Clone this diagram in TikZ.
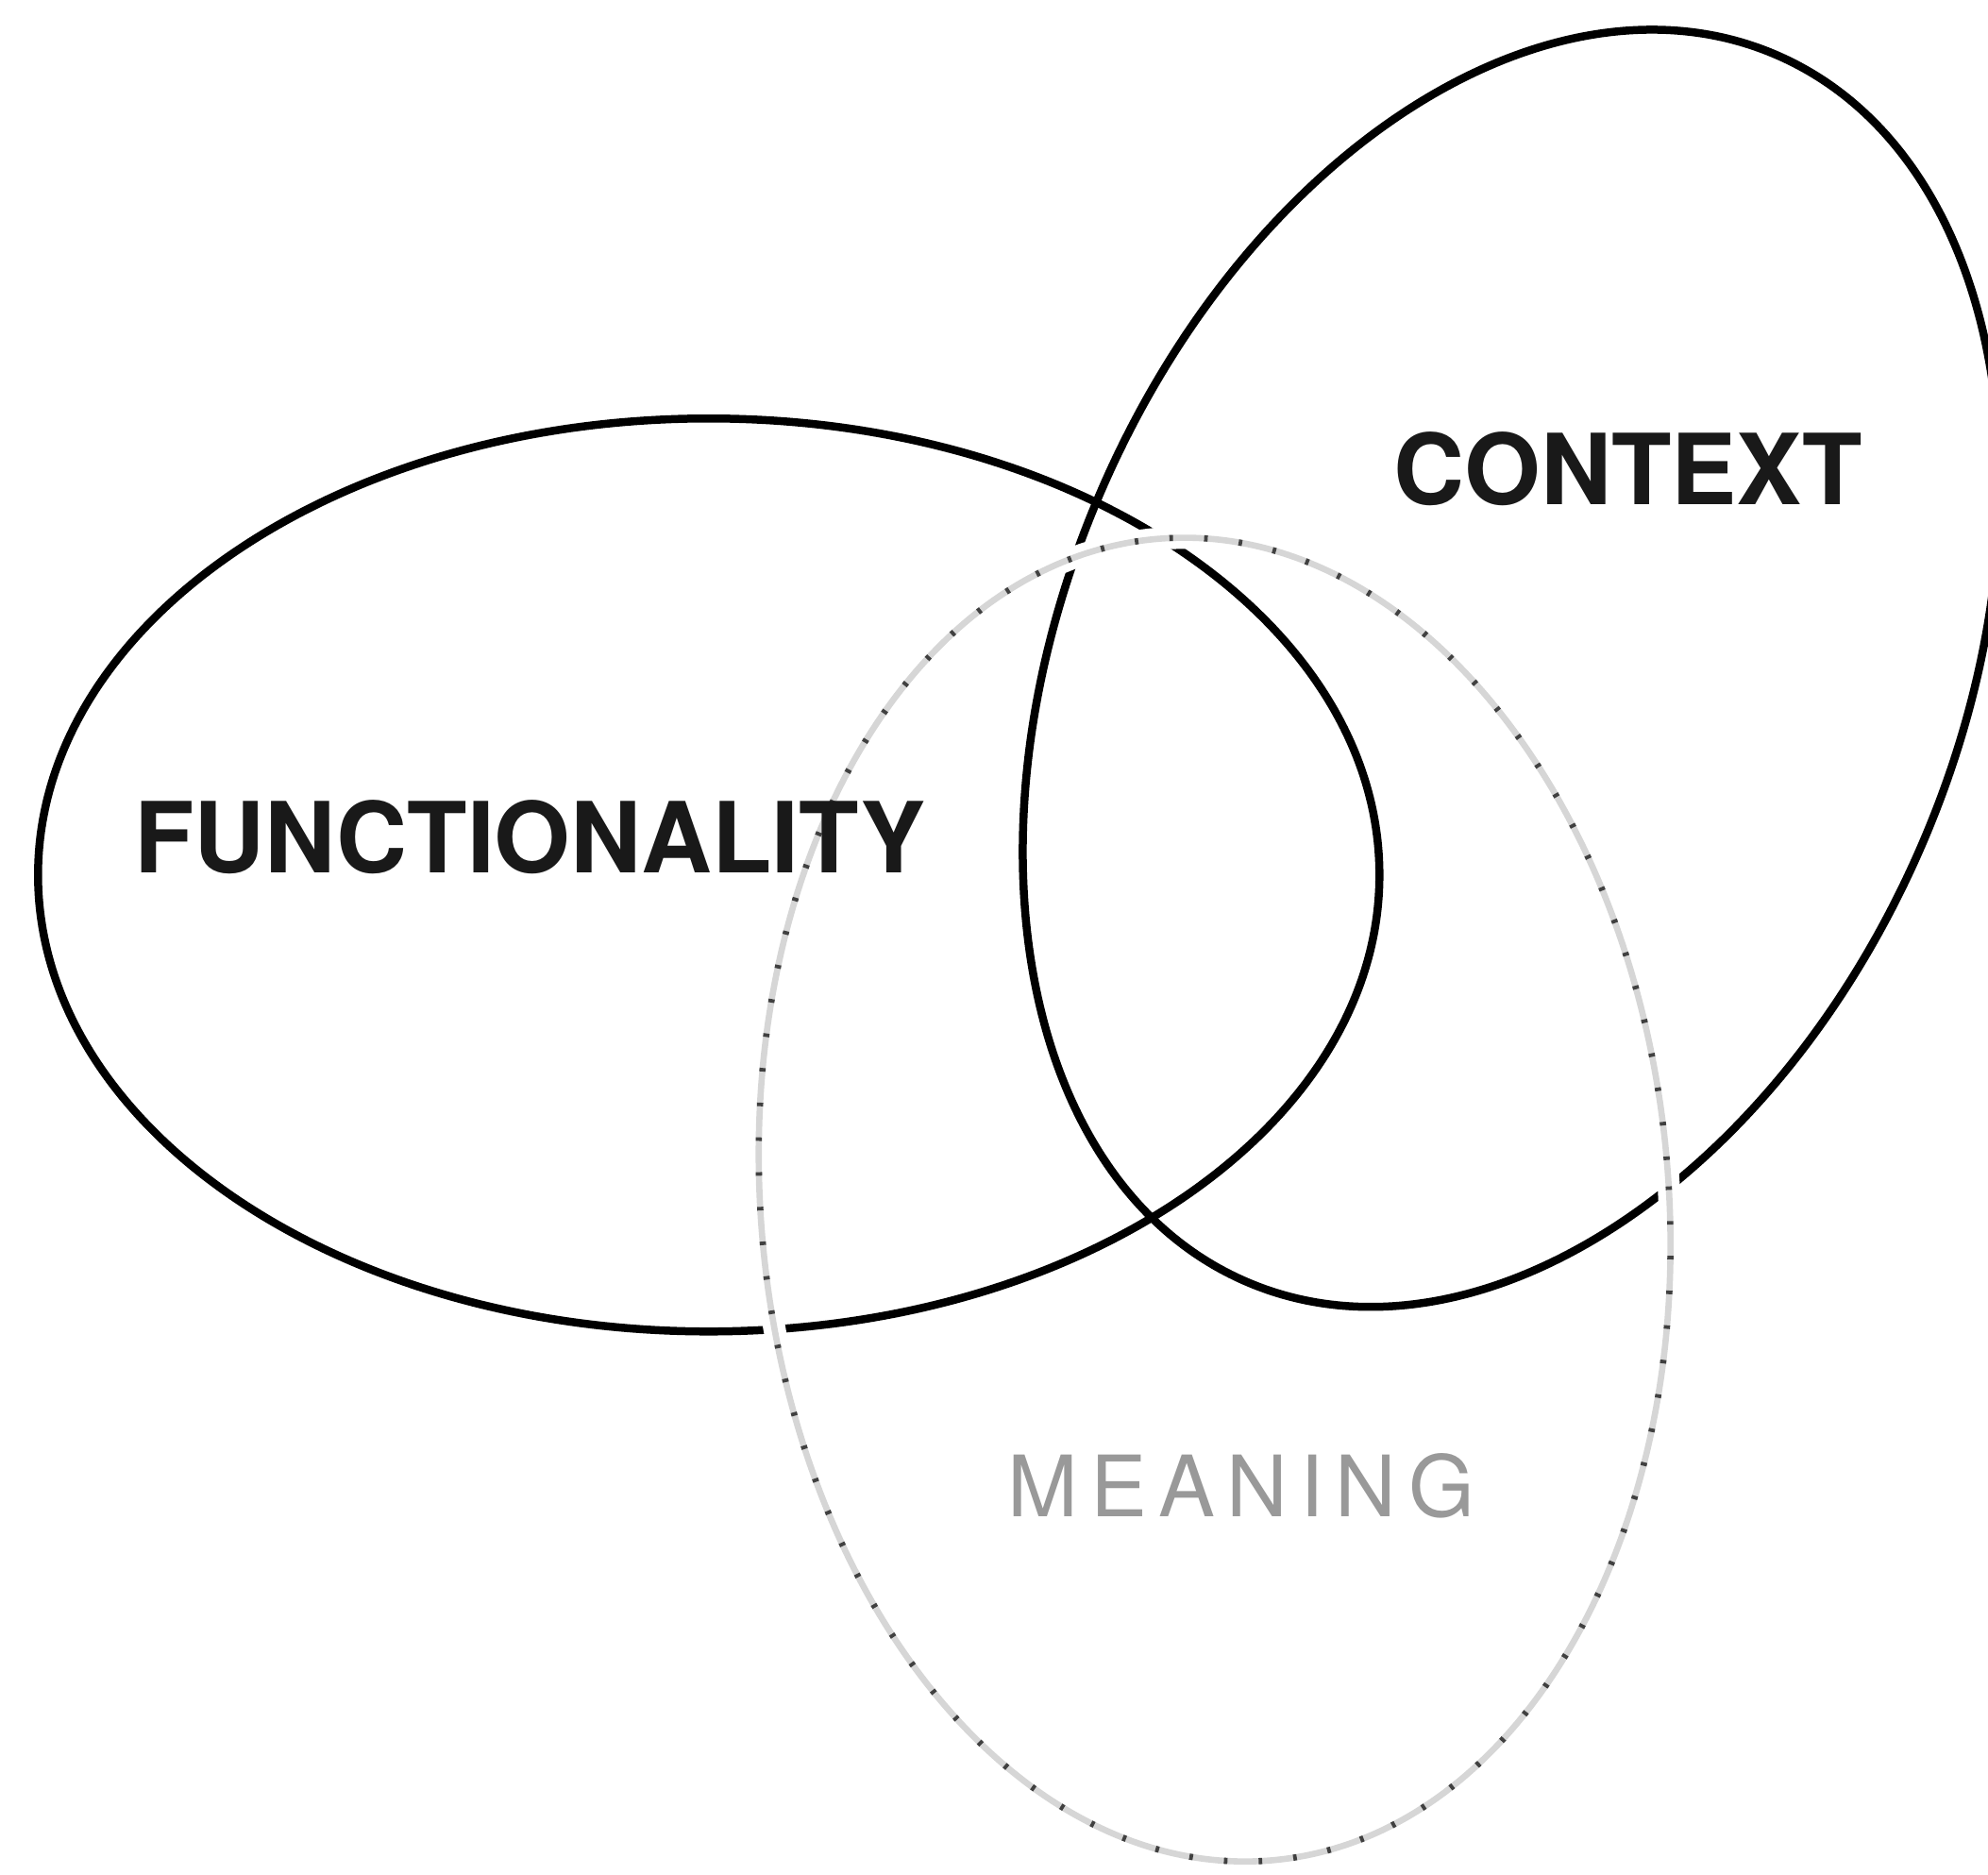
\documentclass[tikz,border=0pt]{standalone}
\usepackage{fontspec}
\setmainfont{TeX Gyre Heros}
\newfontfamily\meanfont[LetterSpace=14]{TeX Gyre Heros}
\usetikzlibrary{shapes.geometric}
\begin{document}
\begin{tikzpicture}[x=0.1mm,y=-0.1mm,
  set/.style={ellipse, draw=black, line width=1.8pt, inner sep=0pt, outer sep=0pt},
  faintset/.style={ellipse, inner sep=0pt, outer sep=0pt, draw=black!16, line width=1.4pt,
    preaction={draw=white, line width=5pt},
    postaction={draw=black!75, line width=1.4pt, dash pattern=on 0.8pt off 7pt}},
  lab/.style={font=\bfseries\fontsize{22}{24}\selectfont, text=black!90},
  faintlab/.style={font=\meanfont\fontsize{19}{21}\selectfont, text=black!40}]
\fill[white] (0,0) rectangle (1568,1478);
\useasboundingbox (0,0) rectangle (1568,1478);
\node[set, minimum width=105.8mm, minimum height=72mm] (func) at (559,690) {};
\node[set, minimum width=70.5mm, minimum height=105.4mm, rotate=-23.4] (ctx) at (1192,527) {};
\node[faintset, minimum width=71.6mm, minimum height=104.6mm, rotate=5] (mean) at (958,946) {};
\node[lab] (funclab) at (418,660) {FUNCTIONALITY};
\node[lab] (ctxlab) at (1284,370) {CONTEXT};
\node[faintlab] (meanlab) at (979,1172) {MEANING};
\end{tikzpicture}
\end{document}
